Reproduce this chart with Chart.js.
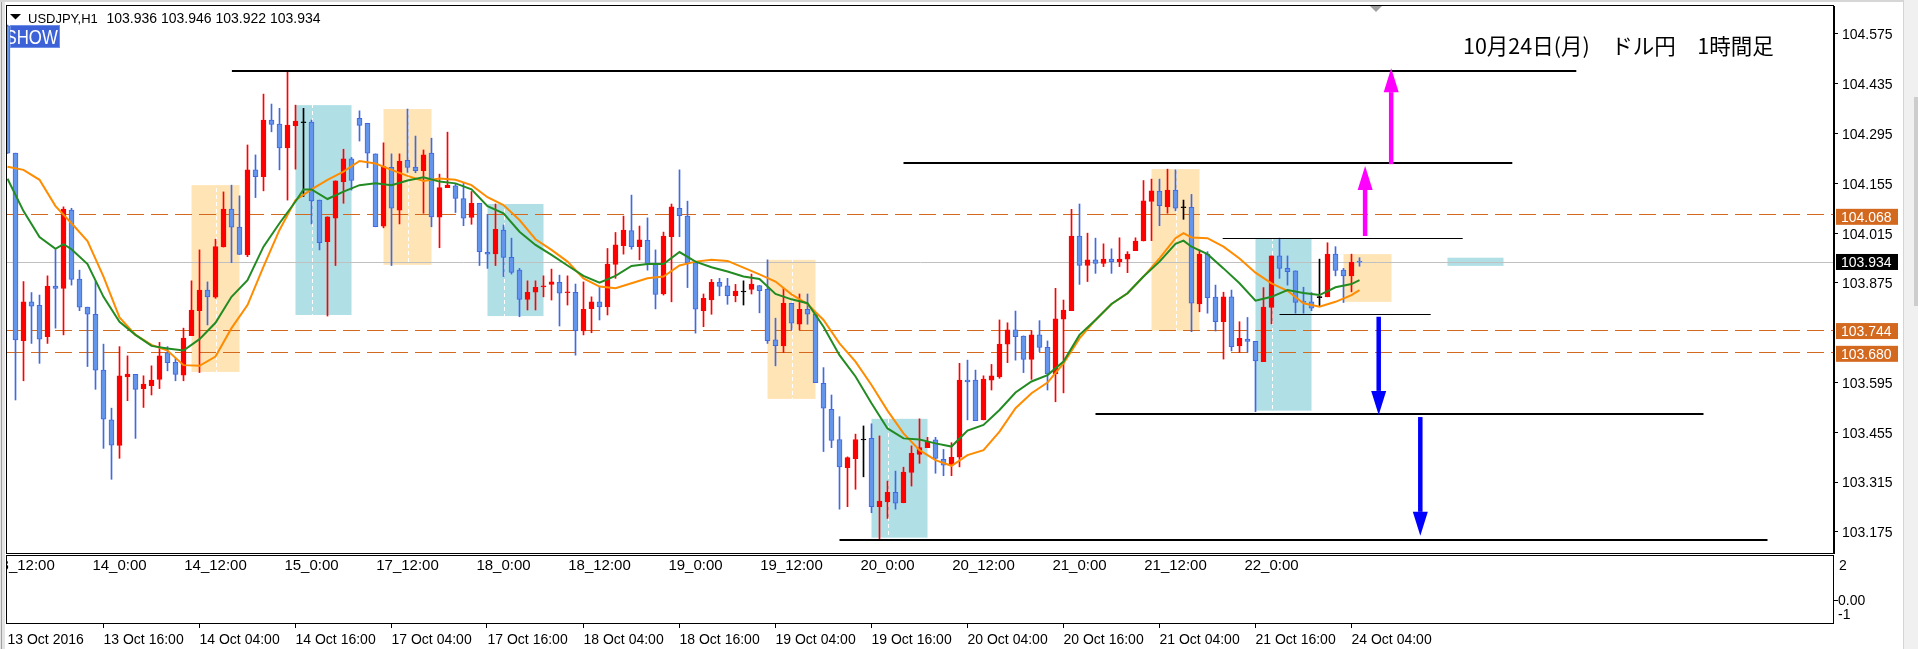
<!DOCTYPE html>
<html lang="ja">
<head>
<meta charset="utf-8">
<title>USDJPY H1</title>
<script src="https://cdn.jsdelivr.net/npm/chart.js@4.4.1/dist/chart.umd.min.js"></script>
<style>
  html, body { margin: 0; padding: 0; background: #fff; overflow: hidden; }
  canvas { display: block; }
</style>
</head>
<body>
<canvas id="usdjpyChart" width="1918" height="649"></canvas>
<script>
// --- USDJPY H1 candles (index 0 = 13 Oct 04:00) ---
const opens = [
  104.598, 104.240, 103.713, 103.822, 103.812, 103.724, 103.866, 103.860, 104.080, 103.886,
  103.807, 103.787, 103.630, 103.490, 103.418, 103.611, 103.618, 103.578, 103.586, 103.604,
  103.679, 103.652, 103.616, 103.727, 103.797, 103.855, 103.835, 103.976, 104.083, 104.032,
  103.954, 104.193, 104.174, 104.333, 104.322, 104.255, 104.317, 104.327, 104.327, 104.108,
  103.991, 104.057, 104.160, 104.224, 104.338, 104.324, 104.238, 104.035, 104.200, 104.080,
  104.220, 104.201, 104.191, 104.240, 104.060, 104.143, 104.148, 104.112, 104.059, 104.099,
  103.961, 103.957, 104.024, 103.947, 103.911, 103.829, 103.849, 103.865, 103.871, 103.877,
  103.848, 103.849, 103.740, 103.803, 103.822, 103.808, 103.927, 103.980, 104.022, 103.977,
  103.995, 103.930, 103.844, 104.005, 104.085, 104.063, 103.932, 103.797, 103.827, 103.877,
  103.867, 103.839, 103.851, 103.857, 103.868, 103.857, 103.715, 103.698, 103.818, 103.759,
  103.801, 103.787, 103.593, 103.520, 103.435, 103.356, 103.381, 103.435, 103.438, 103.246,
  103.260, 103.286, 103.257, 103.342, 103.393, 103.412, 103.434, 103.379, 103.363, 103.385,
  103.602, 103.602, 103.490, 103.602, 103.611, 103.703, 103.743, 103.726, 103.660, 103.729,
  103.694, 103.619, 103.773, 103.797, 104.007, 103.924, 103.940, 103.930, 103.942, 103.935,
  103.942, 103.966, 103.993, 104.104, 104.133, 104.089, 104.136, 104.088, 104.088, 103.816,
  103.956, 103.835, 103.766, 103.836, 103.698, 103.717, 103.711, 103.654, 103.806, 103.951,
  103.916, 103.909, 103.824, 103.822, 103.835, 103.836, 103.956, 103.911, 103.895, 103.936
];
const highs = [
  104.600, 104.240, 103.879, 103.848, 103.841, 103.895, 103.968, 104.089, 104.085, 103.911,
  103.807, 103.879, 103.703, 103.523, 103.696, 103.670, 103.618, 103.614, 103.642, 103.708,
  103.696, 103.663, 103.748, 103.881, 103.968, 103.878, 103.998, 104.131, 104.150, 104.120,
  104.263, 104.235, 104.406, 104.378, 104.366, 104.469, 104.375, 104.366, 104.333, 104.108,
  104.061, 104.162, 104.251, 104.228, 104.359, 104.324, 104.238, 104.269, 104.238, 104.238,
  104.364, 104.288, 104.249, 104.282, 104.181, 104.299, 104.155, 104.155, 104.132, 104.099,
  104.068, 104.097, 104.038, 104.001, 103.916, 103.881, 103.881, 103.895, 103.914, 103.897,
  103.895, 103.872, 103.878, 103.836, 103.863, 103.972, 104.017, 104.063, 104.122, 104.035,
  104.058, 103.968, 104.018, 104.097, 104.193, 104.105, 103.932, 103.844, 103.885, 103.888,
  103.888, 103.871, 103.881, 103.900, 103.868, 103.940, 103.776, 103.860, 103.818, 103.844,
  103.844, 103.787, 103.637, 103.560, 103.499, 103.386, 103.450, 103.473, 103.479, 103.445,
  103.318, 103.346, 103.357, 103.417, 103.493, 103.441, 103.441, 103.407, 103.426, 103.649,
  103.658, 103.630, 103.614, 103.646, 103.771, 103.763, 103.796, 103.726, 103.741, 103.769,
  103.712, 103.860, 103.827, 104.082, 104.097, 104.015, 104.001, 103.985, 103.971, 104.002,
  103.963, 104.002, 104.163, 104.167, 104.167, 104.195, 104.193, 104.108, 104.124, 103.968,
  103.963, 103.869, 103.849, 103.855, 103.766, 103.778, 103.711, 103.862, 103.951, 104.001,
  103.951, 103.909, 103.863, 103.848, 103.942, 103.988, 103.977, 103.916, 103.956, 103.946
];
const lows = [
  104.239, 103.546, 103.600, 103.705, 103.649, 103.705, 103.748, 103.729, 103.869, 103.797,
  103.640, 103.576, 103.410, 103.323, 103.382, 103.544, 103.438, 103.525, 103.560, 103.578,
  103.628, 103.600, 103.600, 103.727, 103.623, 103.757, 103.832, 103.976, 103.932, 103.955,
  103.949, 104.115, 104.134, 104.300, 104.193, 104.108, 104.195, 104.118, 104.041, 103.968,
  103.782, 103.924, 104.099, 104.136, 104.274, 104.199, 104.033, 104.030, 103.924, 104.041,
  104.186, 104.185, 104.071, 104.033, 103.974, 104.143, 104.073, 104.036, 104.040, 103.924,
  103.916, 103.924, 103.893, 103.900, 103.780, 103.799, 103.799, 103.836, 103.827, 103.754,
  103.813, 103.672, 103.729, 103.735, 103.771, 103.785, 103.888, 103.956, 103.970, 103.940,
  103.911, 103.802, 103.841, 103.822, 104.005, 103.862, 103.734, 103.752, 103.787, 103.839,
  103.815, 103.822, 103.813, 103.844, 103.791, 103.705, 103.642, 103.680, 103.743, 103.743,
  103.759, 103.595, 103.401, 103.412, 103.239, 103.246, 103.295, 103.330, 103.229, 103.152,
  103.213, 103.239, 103.257, 103.304, 103.368, 103.412, 103.340, 103.333, 103.333, 103.358,
  103.490, 103.488, 103.490, 103.574, 103.607, 103.651, 103.658, 103.623, 103.604, 103.682,
  103.574, 103.541, 103.566, 103.797, 103.871, 103.879, 103.902, 103.921, 103.902, 103.921,
  103.904, 103.966, 103.993, 103.994, 104.036, 104.071, 104.078, 104.054, 103.738, 103.794,
  103.790, 103.740, 103.661, 103.684, 103.680, 103.680, 103.513, 103.654, 103.760, 103.888,
  103.869, 103.790, 103.790, 103.797, 103.810, 103.836, 103.895, 103.820, 103.850, 103.922
];
const closes = [
  104.240, 103.715, 103.822, 103.810, 103.717, 103.866, 103.860, 104.083, 103.885, 103.807,
  103.787, 103.630, 103.492, 103.419, 103.614, 103.619, 103.576, 103.591, 103.602, 103.670,
  103.651, 103.618, 103.720, 103.799, 103.855, 103.836, 103.977, 104.083, 104.032, 103.955,
  104.193, 104.174, 104.333, 104.321, 104.255, 104.319, 104.330, 104.327, 104.106, 103.988,
  104.061, 104.162, 104.224, 104.163, 104.318, 104.240, 104.033, 104.202, 104.085, 104.218,
  104.200, 104.191, 104.235, 104.061, 104.143, 104.150, 104.113, 104.057, 104.099, 103.963,
  103.956, 104.026, 103.947, 103.905, 103.829, 103.849, 103.863, 103.866, 103.878, 103.846,
  103.850, 103.741, 103.801, 103.822, 103.808, 103.928, 103.982, 104.024, 103.977, 103.996,
  103.930, 103.843, 104.007, 104.089, 104.064, 103.932, 103.801, 103.832, 103.877, 103.865,
  103.839, 103.852, 103.851, 103.872, 103.853, 103.713, 103.699, 103.818, 103.762, 103.801,
  103.787, 103.595, 103.523, 103.432, 103.358, 103.384, 103.435, 103.435, 103.246, 103.262,
  103.286, 103.256, 103.343, 103.396, 103.412, 103.429, 103.382, 103.363, 103.385, 103.602,
  103.597, 103.488, 103.605, 103.614, 103.703, 103.743, 103.724, 103.660, 103.729, 103.694,
  103.619, 103.774, 103.799, 104.007, 103.924, 103.940, 103.930, 103.942, 103.935, 103.942,
  103.956, 103.993, 104.106, 104.134, 104.092, 104.136, 104.085, 104.088, 103.818, 103.956,
  103.834, 103.766, 103.836, 103.696, 103.719, 103.711, 103.656, 103.807, 103.951, 103.916,
  103.907, 103.820, 103.820, 103.804, 103.835, 103.956, 103.910, 103.895, 103.933, 103.934
];

// moving averages as [candle index, price]
const maGreen = [
  [0,104.168],[2,104.077],[4,104.004],[6,103.971],[7,103.984],[8,103.970],[10,103.928],[12,103.836],
  [14,103.766],[16,103.729],[18,103.698],[20,103.691],[22,103.685],[24,103.717],[26,103.763],[28,103.836],
  [30,103.883],[32,103.977],[34,104.043],[36,104.104],[37,104.138],[38,104.138],[40,104.111],[42,104.132],
  [44,104.150],[46,104.155],[48,104.150],[50,104.163],[52,104.172],[54,104.160],[56,104.155],[58,104.138],
  [60,104.091],[62,104.071],[64,104.019],[66,103.982],[68,103.954],[70,103.924],[72,103.895],[74,103.876],
  [76,103.895],[78,103.923],[80,103.928],[82,103.928],[84,103.962],[86,103.935],[88,103.919],[90,103.907],
  [92,103.893],[94,103.886],[96,103.844],[98,103.829],[100,103.818],[102,103.752],[104,103.672],[106,103.612],
  [108,103.537],[110,103.466],[112,103.438],[114,103.435],[116,103.424],[118,103.415],[120,103.460],[122,103.476],
  [124,103.518],[126,103.567],[128,103.598],[130,103.616],[132,103.654],[134,103.729],[136,103.771],[138,103.816],
  [140,103.846],[142,103.893],[144,103.935],[146,103.985],[147,103.994],[148,103.977],[150,103.956],[152,103.916],
  [154,103.874],[156,103.825],[158,103.836],[160,103.855],[162,103.847],[164,103.841],[166,103.863],[168,103.872],
  [169,103.883]
];
const maOrange = [
  [0,104.202],[2,104.193],[4,104.165],[6,104.091],[8,104.043],[10,103.993],[12,103.893],[14,103.778],
  [16,103.729],[18,103.701],[20,103.685],[22,103.644],[24,103.642],[26,103.668],[28,103.748],[30,103.813],
  [32,103.921],[34,104.024],[36,104.108],[38,104.138],[40,104.165],[42,104.188],[44,104.218],[46,104.211],
  [48,104.193],[50,104.176],[52,104.162],[54,104.169],[56,104.165],[58,104.150],[60,104.116],[62,104.094],
  [64,104.052],[66,103.998],[68,103.968],[70,103.935],[72,103.888],[74,103.865],[76,103.860],[78,103.874],
  [80,103.888],[82,103.893],[84,103.924],[86,103.935],[88,103.940],[90,103.937],[92,103.918],[94,103.899],
  [96,103.879],[98,103.843],[100,103.816],[102,103.771],[104,103.705],[106,103.654],[108,103.588],[110,103.516],
  [112,103.452],[114,103.405],[116,103.377],[118,103.361],[120,103.391],[122,103.405],[124,103.457],[126,103.523],
  [128,103.565],[130,103.595],[132,103.649],[134,103.719],[136,103.771],[138,103.816],[140,103.846],[142,103.893],
  [144,103.944],[146,104.001],[147,104.015],[148,104.003],[150,104.001],[152,103.977],[154,103.944],[156,103.904],
  [158,103.874],[160,103.853],[162,103.818],[164,103.808],[166,103.822],[168,103.841],[169,103.855]
];

// axes
const priceTicks = [104.575, 104.435, 104.295, 104.155, 104.015, 103.875, 103.595, 103.455, 103.315, 103.175];
const timeTickIdx = [0, 12, 24, 36, 48, 60, 72, 84, 96, 108, 120, 132, 144, 156, 168];
const timeTickLabels = ['13 Oct 2016', '13 Oct 16:00', '14 Oct 04:00', '14 Oct 16:00', '17 Oct 04:00',
  '17 Oct 16:00', '18 Oct 04:00', '18 Oct 16:00', '19 Oct 04:00', '19 Oct 16:00', '20 Oct 04:00',
  '20 Oct 16:00', '21 Oct 04:00', '21 Oct 16:00', '24 Oct 04:00'];
const sessionIdx = [2, 14, 26, 38, 50, 62, 74, 86, 98, 110, 122, 134, 146, 158];
const sessionLabels = ['13_12:00', '14_0:00', '14_12:00', '15_0:00', '17_12:00', '18_0:00', '18_12:00',
  '19_0:00', '19_12:00', '20_0:00', '20_12:00', '21_0:00', '21_12:00', '22_0:00'];

// objects on the chart (candle index / price)
const dashedLevels = [104.068, 103.744, 103.680];
const bidPrice = 103.934;
const zonesOrange = [[23, 29, 104.150, 103.625], [47, 53, 104.364, 103.926], [95, 101, 103.940, 103.549],
  [143, 149, 104.195, 103.741], [167, 173, 103.956, 103.822]];
const zonesBlue = [[36, 43, 104.375, 103.785], [60, 67, 104.097, 103.782], [108, 115, 103.493, 103.159],
  [156, 163, 104.001, 103.516], [180, 187, 103.946, 103.923]];
const boldLines = [[28.05, 196.1, 104.471], [112, 188.1, 104.211], [136, 212, 103.506], [104, 220, 103.152]];
const thinLines = [[151.9, 181.9, 104.001], [159, 177.9, 103.787]];
const arrowsUp = [[172.96, 104.209, 104.479], [169.7, 104.007, 104.204]];
const arrowsDown = [[171.4, 103.780, 103.504], [176.6, 103.498, 103.164]];

document.addEventListener('DOMContentLoaded', function() {
    const UP = '#ff0000', DOWN_FILL = '#6495ed', DOWN_EDGE = '#4169e1', FLAT = '#000000';
    const FONT = '"Liberation Sans", Arial, sans-serif';
    const idx = opens.map((_, i) => i);
    const dir = i => closes[i] > opens[i] ? 1 : (closes[i] < opens[i] ? -1 : 0);
    const bodyRange = i => {
        let a = Math.min(opens[i], closes[i]), b = Math.max(opens[i], closes[i]);
        if (b - a < 0.0028) { const m = (a + b) / 2; a = m - 0.0014; b = m + 0.0014; } // keep 1px crosses visible
        return [a, b];
    };

    const decor = {
        id: 'mt4Decor',
        beforeDatasetsDraw(chart) {
            const { ctx, chartArea: ca } = chart;
            const X = v => chart.scales.x.getPixelForValue(v);
            const Y = v => chart.scales.y.getPixelForValue(v);
            ctx.save();
            ctx.beginPath(); ctx.rect(ca.left, ca.top, ca.width, ca.height); ctx.clip();
            // shaded zones
            const zone = (z, c) => { ctx.fillStyle = c; ctx.fillRect(X(z[0]), Y(z[2]), X(z[1]) - X(z[0]), Y(z[3]) - Y(z[2])); };
            zonesOrange.forEach(z => zone(z, '#ffe4b5'));
            zonesBlue.forEach(z => zone(z, '#b0e0e6'));
            // white dashed session separators
            ctx.strokeStyle = '#ffffff'; ctx.lineWidth = 1; ctx.setLineDash([4, 3]);
            sessionIdx.forEach(i => { const x = Math.round(X(i)) + 0.5; ctx.beginPath(); ctx.moveTo(x, ca.top); ctx.lineTo(x, ca.bottom); ctx.stroke(); });
            // bid line and dashed levels
            ctx.setLineDash([]);
            ctx.strokeStyle = '#c0c0c0';
            const yb = Math.round(Y(bidPrice)) + 0.5;
            ctx.beginPath(); ctx.moveTo(ca.left, yb); ctx.lineTo(ca.right, yb); ctx.stroke();
            ctx.strokeStyle = '#d2691e'; ctx.setLineDash([17, 7]);
            dashedLevels.forEach(p => { const y = Math.round(Y(p)) + 0.5; ctx.beginPath(); ctx.moveTo(ca.left, y); ctx.lineTo(ca.right, y); ctx.stroke(); });
            ctx.restore();
        },
        afterDatasetsDraw(chart) {
            const { ctx, chartArea: ca } = chart;
            const X = v => chart.scales.x.getPixelForValue(v);
            const Y = v => chart.scales.y.getPixelForValue(v);
            ctx.save();
            ctx.beginPath(); ctx.rect(ca.left, ca.top, ca.width, ca.height); ctx.clip();
            ctx.strokeStyle = '#000';
            ctx.lineWidth = 2;
            boldLines.forEach(l => { const y = Math.round(Y(l[2])); ctx.beginPath(); ctx.moveTo(X(l[0]), y); ctx.lineTo(X(l[1]), y); ctx.stroke(); });
            ctx.lineWidth = 1;
            thinLines.forEach(l => { const y = Math.round(Y(l[2])) + 0.5; ctx.beginPath(); ctx.moveTo(X(l[0]), y); ctx.lineTo(X(l[1]), y); ctx.stroke(); });
            // arrows
            const arrow = (a, color) => {
                const x = X(a[0]), y0 = Y(a[1]), y1 = Y(a[2]);
                const d = y1 < y0 ? -1 : 1, yBase = y1 - d * 24;
                ctx.strokeStyle = color; ctx.lineWidth = 4.5;
                ctx.beginPath(); ctx.moveTo(x, y0); ctx.lineTo(x, yBase); ctx.stroke();
                ctx.fillStyle = color;
                ctx.beginPath(); ctx.moveTo(x, y1); ctx.lineTo(x - 7.5, yBase); ctx.lineTo(x + 7.5, yBase); ctx.closePath(); ctx.fill();
            };
            arrowsUp.forEach(a => arrow(a, '#ff00ff'));
            arrowsDown.forEach(a => arrow(a, '#0000ff'));
            ctx.restore();
        },
        afterDraw(chart) {
            const { ctx, chartArea: ca } = chart;
            const X = v => chart.scales.x.getPixelForValue(v);
            const Y = v => chart.scales.y.getPixelForValue(v);
            const subTop = ca.bottom + 2, subBottom = ca.bottom + 70;
            ctx.save();
            // window chrome
            ctx.fillStyle = '#e4e4e4'; ctx.fillRect(0, 0, 5, 649);
            ctx.fillStyle = '#a0a0a0'; ctx.fillRect(1, 0, 1, 649);
            ctx.fillStyle = '#d6d6d6'; ctx.fillRect(0, 0, 1904, 2);
            ctx.fillStyle = '#f0f0f0'; ctx.fillRect(1904, 0, 14, 649);
            ctx.fillStyle = '#d4d4d4'; ctx.fillRect(1903, 0, 1, 649);
            ctx.fillStyle = '#cdcdcd'; ctx.fillRect(1914, 97, 4, 209);
            // frames of main window and sub window
            ctx.strokeStyle = '#000'; ctx.lineWidth = 1;
            ctx.strokeRect(ca.left - 0.5, ca.top - 0.5, ca.right - ca.left, ca.bottom - ca.top + 1);
            ctx.strokeRect(ca.left - 0.5, subTop + 0.5, ca.right - ca.left, subBottom - subTop);
            // time ticks under the sub window
            ctx.beginPath();
            timeTickIdx.slice(1).forEach(i => { const x = Math.round(X(i)) - 0.5; ctx.moveTo(x, subBottom + 1); ctx.lineTo(x, subBottom + 5); });
            ctx.moveTo(ca.right, 600.5); ctx.lineTo(ca.right + 4, 600.5);
            ctx.stroke();
            // sub window scale
            ctx.fillStyle = '#000'; ctx.font = '14px ' + FONT; ctx.textBaseline = 'alphabetic'; ctx.textAlign = 'left';
            ctx.fillText('2', ca.right + 5, 570);
            ctx.fillText('0.00', ca.right + 4, 605);
            ctx.fillText('-1', ca.right + 4, 619);
            // session labels in the sub window
            ctx.save();
            ctx.beginPath(); ctx.rect(ca.left, subTop, ca.right - ca.left, subBottom - subTop); ctx.clip();
            ctx.font = '15px ' + FONT; ctx.textAlign = 'center';
            sessionIdx.forEach((i, k) => ctx.fillText(sessionLabels[k], X(i), 570));
            ctx.restore();
            // price tags on the right scale
            const tag = (p, bg, dy) => {
                const y = Y(p) + dy;
                ctx.fillStyle = bg; ctx.fillRect(ca.right + 2, y - 8, 62, 16);
                ctx.fillStyle = '#fff'; ctx.textAlign = 'left'; ctx.textBaseline = 'middle';
                ctx.font = '14px ' + FONT;
                ctx.fillText(p.toFixed(3), ca.right + 7, y + 1);
            };
            tag(dashedLevels[0], '#d2691e', 2.5);
            tag(dashedLevels[1], '#d2691e', 1.5);
            tag(dashedLevels[2], '#d2691e', 1.5);
            tag(bidPrice, '#000000', 0);
            // header
            ctx.fillStyle = '#000'; ctx.textBaseline = 'alphabetic'; ctx.textAlign = 'left';
            ctx.beginPath(); ctx.moveTo(10, 14); ctx.lineTo(21, 14); ctx.lineTo(15.5, 19.5); ctx.closePath(); ctx.fill();
            ctx.font = '13px ' + FONT;
            ctx.fillText('USDJPY,H1', 28, 22.5);
            ctx.font = '14px ' + FONT;
            ctx.fillText(opens[169].toFixed(3) + ' ' + highs[169].toFixed(3) + ' ' + lows[169].toFixed(3) + ' ' + closes[169].toFixed(3), 106.5, 22.5);
            // SHOW button
            ctx.save();
            ctx.fillStyle = '#3d62d8'; ctx.fillRect(10, 25, 50, 23);
            ctx.strokeStyle = '#6f8ee8'; ctx.strokeRect(10.5, 25.5, 49, 22);
            ctx.beginPath(); ctx.rect(10, 25, 50, 23); ctx.clip();
            ctx.translate(5.5, 43.5); ctx.scale(0.8, 1);
            ctx.fillStyle = '#ffffff'; ctx.font = '21px ' + FONT;
            ctx.fillText('SHOW', 0, 0);
            ctx.restore();
            // chart shift marker
            ctx.fillStyle = '#a0a0a0';
            ctx.beginPath(); ctx.moveTo(1370, 6); ctx.lineTo(1382, 6); ctx.lineTo(1376, 12); ctx.closePath(); ctx.fill();
            // title
            ctx.fillStyle = '#000'; ctx.font = '21.5px "Noto Sans CJK JP"';
            ctx.fillText('10月24日(月)\u3000ドル円\u30001時間足', 1463, 54);
            ctx.restore();
        }
    };

    const ctx = document.getElementById('usdjpyChart').getContext('2d');
    new Chart(ctx, {
        type: 'bar',
        data: {
            datasets: [
                {
                    type: 'line', label: 'MA green', order: 0,
                    data: maGreen.map(p => ({ x: p[0], y: p[1] })),
                    borderColor: '#228b22', borderWidth: 2, pointRadius: 0, tension: 0
                },
                {
                    type: 'line', label: 'MA orange', order: 0,
                    data: maOrange.map(p => ({ x: p[0], y: p[1] })),
                    borderColor: '#ff8c00', borderWidth: 2, pointRadius: 0, tension: 0
                },
                {
                    label: 'Body', order: 1, grouped: false,
                    data: idx.map(i => ({ x: i, y: bodyRange(i) })),
                    backgroundColor: idx.map(i => dir(i) > 0 ? UP : (dir(i) < 0 ? DOWN_FILL : FLAT)),
                    borderColor: idx.map(i => dir(i) > 0 ? UP : (dir(i) < 0 ? DOWN_EDGE : FLAT)),
                    borderWidth: 1, borderSkipped: false, barThickness: 5
                },
                {
                    label: 'Wick', order: 2, grouped: false,
                    data: idx.map(i => ({ x: i, y: [lows[i], highs[i]] })),
                    backgroundColor: idx.map(i => dir(i) > 0 ? UP : (dir(i) < 0 ? DOWN_EDGE : FLAT)),
                    borderWidth: 0, barThickness: 1
                }
            ]
        },
        options: {
            responsive: false,
            animation: false,
            devicePixelRatio: 1,
            events: [],
            layout: { padding: { left: 7, top: 6, right: 0, bottom: 0 } },
            plugins: {
                legend: { display: false },
                tooltip: { enabled: false }
            },
            scales: {
                x: {
                    type: 'linear',
                    min: -0.0625,
                    max: 228.3125,
                    offset: false,
                    grid: { display: false },
                    border: { display: false },
                    afterBuildTicks: s => { s.ticks = timeTickIdx.map(v => ({ value: v })); },
                    afterFit: s => { s.height = 96; s.paddingLeft = 0; s.paddingRight = 0; },
                    ticks: {
                        autoSkip: false, maxRotation: 0, align: 'start', padding: 71,
                        color: '#000', font: { family: FONT, size: 14 },
                        callback: (v, i) => timeTickLabels[i]
                    }
                },
                y: {
                    position: 'right',
                    min: 103.11577,
                    max: 104.65372,
                    grid: { drawOnChartArea: false, drawTicks: true, tickLength: 4, color: '#000' },
                    border: { display: true, color: '#000' },
                    afterBuildTicks: s => { s.ticks = priceTicks.map(v => ({ value: v })); },
                    afterFit: s => { s.width = 84; s.paddingTop = 0; s.paddingBottom = 0; },
                    ticks: {
                        padding: 4, labelOffset: 1.5, color: '#000', font: { family: FONT, size: 14 },
                        callback: v => v.toFixed(3)
                    }
                }
            }
        },
        plugins: [decor]
    });
});
</script>
</body>
</html>
